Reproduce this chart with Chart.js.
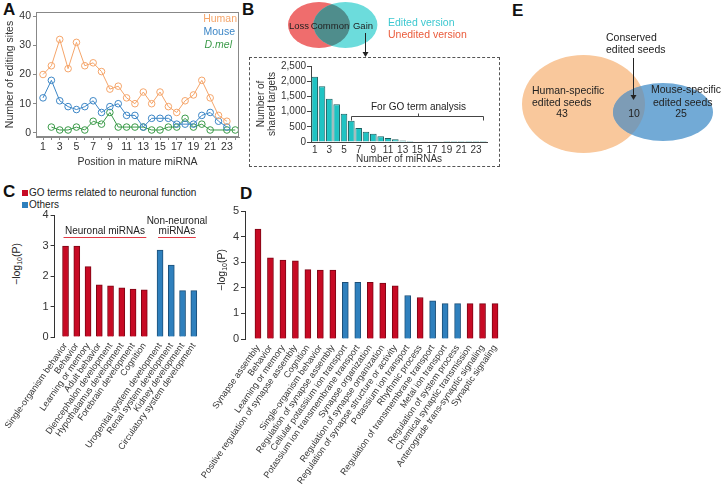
<!DOCTYPE html>
<html>
<head>
<meta charset="utf-8">
<title>miRNA editing figure</title>
<script src="https://cdn.jsdelivr.net/npm/chart.js@4.4.1/dist/chart.umd.min.js"></script>
<style>
  body { margin: 0; background: #fff; }
  #fig { position: relative; width: 721px; height: 484px; overflow: hidden;
         font-family: Arial, "Liberation Sans", Helvetica, sans-serif; color: #222; }
  #fig canvas { position: absolute; }
  .letter { position: absolute; font-size: 17px; font-weight: bold; line-height: 1; color: #111; }
  .t { position: absolute; font-size: 10.5px; line-height: 12px; white-space: nowrap; }
  .c { text-align: center; }
  .box { position: absolute; border: 1px dashed #555; box-sizing: border-box; }
  .sq { position: absolute; width: 6px; height: 6px; }
  .ytitle { position: absolute; width: 80px; height: 14px; line-height: 14px; text-align: center;
            font-size: 10.5px; transform: rotate(-90deg); white-space: nowrap; }
  .ytitle sub { font-size: 7px; vertical-align: -2px; }
</style>
</head>
<body>
<div id="fig">
  <div class="letter" style="left:3px;top:1px">A</div>
  <div class="letter" style="left:242px;top:1px">B</div>
  <div class="letter" style="left:512px;top:2px">E</div>
  <div class="letter" style="left:3px;top:183px">C</div>
  <div class="letter" style="left:240px;top:185px">D</div>

  <!-- A -->
  <canvas id="chartA" width="250" height="170" style="left:0;top:0"></canvas>
  <div class="t" style="right:484px;top:12px;color:#f5a56a">Human</div>
  <div class="t" style="right:486px;top:25px;color:#3c86c6">Mouse</div>
  <div class="t" style="right:489px;top:38px;color:#3a9a48;font-style:italic">D.mel</div>

  <!-- B -->
  <canvas id="vennB" width="200" height="57" style="left:280px;top:0"></canvas>
  <div class="t c" style="left:279px;top:20px;width:40px;font-size:9.5px">Loss</div>
  <div class="t c" style="left:305px;top:20px;width:50px;font-size:9.5px">Common</div>
  <div class="t c" style="left:343px;top:20px;width:40px;font-size:9.5px">Gain</div>
  <div class="t" style="left:388px;top:16px;color:#3cc8d0">Edited version</div>
  <div class="t" style="left:388px;top:28px;color:#ea5a3a">Unedited version</div>
  <div class="box" style="left:249px;top:57px;width:251px;height:110px"></div>
  <canvas id="chartB" width="246" height="107" style="left:252px;top:58px"></canvas>

  <!-- E -->
  <canvas id="vennE" width="206" height="110" style="left:515px;top:50px"></canvas>
  <div class="t" style="left:606px;top:31px">Conserved</div>
  <div class="t" style="left:606px;top:43px">edited seeds</div>
  <div class="t" style="left:532px;top:84px">Human-specific</div>
  <div class="t" style="left:532px;top:96px">edited seeds</div>
  <div class="t c" id="numHuman" style="left:542px;top:107px;width:40px"></div>
  <div class="t c" id="numConserved" style="left:614px;top:107px;width:40px"></div>
  <div class="t" style="left:651px;top:83px">Mouse-specific</div>
  <div class="t" style="left:653px;top:96px">edited seeds</div>
  <div class="t c" id="numMouse" style="left:661px;top:107px;width:40px"></div>

  <!-- C -->
  <div class="sq" style="left:22px;top:190px;background:#c70a24"></div>
  <div class="t" style="left:29px;top:187px;font-size:10px">GO terms related to neuronal function</div>
  <div class="sq" style="left:22px;top:202px;background:#2f80bd"></div>
  <div class="t" style="left:29px;top:199px;font-size:10px">Others</div>
  <div class="ytitle" style="left:-24px;top:257px">−log<sub>10</sub>(P)</div>
  <canvas id="chartC" width="230" height="284" style="left:0;top:200px"></canvas>

  <!-- D -->
  <div class="ytitle" style="left:181px;top:263px">−log<sub>10</sub>(P)</div>
  <canvas id="chartD" width="320" height="289" style="left:200px;top:195px"></canvas>
</div>

<script>
// ---- A: editing sites per position ----
const positions = [1, 2, 3, 4, 5, 6, 7, 8, 9, 10, 11, 12, 13, 14, 15, 16, 17, 18, 19, 20, 21, 22, 23, 24];
const humanSites = [20, 23, 32, 22, 31, 23, 24, 21, 15, 16, 12, 10, 14, 10, 14, 9, 7, 11, 13, 18, 12, 6, 4, null];
const mouseSites = [12, 18, 11, 9, 8, 9, 11, 7, 9, 10, 6, 6, 2, 5, 5, 5, 3, 3, 3, 6, 7, 4, 2, null];
const dmelSites = [null, 2, 1, 1, 2, 1, 4, 3, 7, 2, 2, 2, 2, 1, 1, 2, 2, 5, 2, 3, 1, null, 1, 1];
const editTicks = [0, 10, 20, 30, 40];

// ---- B: shared targets ----
const mirnaCounts = [1, 2, 3, 4, 5, 6, 7, 8, 9, 10, 11, 12, 13, 14, 15, 16, 17, 18, 19, 20, 21, 22, 23, 24];
const sharedTargets = [2150, 1830, 1420, 1240, 930, 700, 460, 340, 270, 190, 130, 90, 50, 30, 15, 10, 5, 5, 3, 2, 2, 1, 1, 1];
const sharedTicks = [0, 500, 1000, 1500, 2000, 2500];

// ---- C: GO terms by miRNA group ----
const cTermsNeuronal = ['Single-organism behavior', 'Behavior', 'Learning or memory', 'Adult behavior',
  'Diencephalon development', 'Hypothalamus development', 'Forebrain development', 'Cognition'];
const cValuesNeuronal = [2.98, 2.98, 2.31, 1.71, 1.68, 1.61, 1.57, 1.55];
const cTermsOther = ['Urogenital system development', 'Renal system development', 'Kidney development',
  'Circulatory system development'];
const cValuesOther = [2.85, 2.36, 1.52, 1.52];
const cTicks = [0, 1, 2, 3, 4];

// ---- D: GO terms of shared targets ----
const dTerms = ['Synapse assembly', 'Behavior', 'Learning or memory', 'Positive regulation of synapse assembly',
  'Cognition', 'Single-organism behavior', 'Regulation of synapse assembly', 'Cellular potassium ion transport',
  'Potassium ion transmembrane transport', 'Synapse organization', 'Regulation of synapse organization',
  'Regulation of synapse structure or activity', 'Potassium ion transport', 'Rhythmic process',
  'Regulation of transmembrane transport', 'Metal ion transport', 'Regulation of system process',
  'Chemical synaptic transmission', 'Anterograde trans-synaptic signaling', 'Synaptic signaling'];
const dValues = [4.29, 3.17, 3.08, 3.05, 2.71, 2.69, 2.69, 2.21, 2.21, 2.21, 2.18, 2.08, 1.70, 1.62, 1.49, 1.38, 1.38, 1.38, 1.38, 1.38];
const dNeuronal = [true, true, true, true, true, true, true, false, false, true, true, true, false, true, false, false, false, true, true, true];
const dTicks = [0, 1, 2, 3, 4, 5];

// ---- E: edited seeds ----
const humanSeeds = 43;
const conservedSeeds = 10;
const mouseSeeds = 25;

const HUMAN = '#f5a56a', MOUSE = '#3c86c6', DMEL = '#3a9a48';
const RED = '#c70a24', RED_EDGE = '#7d0514', BLUE = '#2f80bd', BLUE_EDGE = '#1c4f78';

Chart.defaults.font.family = 'Arial, "Liberation Sans", Helvetica, sans-serif';
Chart.defaults.font.size = 10.5;
Chart.defaults.color = '#333';
Chart.defaults.animation = false;
Chart.defaults.plugins.legend.display = false;
Chart.defaults.plugins.tooltip.enabled = false;

const fixWidth = w => s => { s.width = w; };
const fixHeight = h => s => { s.height = h; };
const setTicks = values => s => { s.ticks = values.map(v => ({ value: v })); };

// box round the plot area of A
const framePlugin = {
    id: 'frame',
    afterDraw(chart) {
        const { ctx, chartArea: a } = chart;
        ctx.save();
        ctx.strokeStyle = '#888';
        ctx.lineWidth = 1;
        ctx.strokeRect(a.left + 0.5, a.top + 0.5, a.right - a.left - 1, a.bottom - a.top - 1);
        ctx.restore();
    }
};

// ellipses + arrow for the venn diagrams
const vennPlugin = {
    id: 'venn',
    afterDraw(chart, args, o) {
        const { ctx, scales: { x, y } } = chart;
        const px = s => ({
            cx: x.getPixelForValue(s.cx), cy: y.getPixelForValue(s.cy),
            rx: Math.abs(x.getPixelForValue(s.cx + s.rx) - x.getPixelForValue(s.cx)),
            ry: Math.abs(y.getPixelForValue(s.cy + s.ry) - y.getPixelForValue(s.cy))
        });
        const e = o.sets.map(px);
        const path = p => { ctx.beginPath(); ctx.ellipse(p.cx, p.cy, p.rx, p.ry, 0, 0, Math.PI * 2); };
        ctx.save();
        e.forEach((p, i) => { path(p); ctx.fillStyle = o.sets[i].color; ctx.fill(); });
        path(e[0]); ctx.clip();
        path(e[1]); ctx.fillStyle = o.overlap; ctx.fill();
        ctx.restore();

        const ax = x.getPixelForValue(o.arrow.x);
        const y0 = y.getPixelForValue(o.arrow.from), y1 = y.getPixelForValue(o.arrow.to);
        ctx.save();
        ctx.strokeStyle = '#222'; ctx.fillStyle = '#222'; ctx.lineWidth = 1;
        ctx.beginPath(); ctx.moveTo(ax + 0.5, y0); ctx.lineTo(ax + 0.5, y1 - 4); ctx.stroke();
        ctx.beginPath(); ctx.moveTo(ax - 2.5, y1 - 5); ctx.lineTo(ax + 3.5, y1 - 5); ctx.lineTo(ax + 0.5, y1); ctx.closePath(); ctx.fill();
        ctx.restore();
    }
};

// bracket over bars in B
const bracketPlugin = {
    id: 'bracket',
    afterDatasetsDraw(chart, args, o) {
        const { ctx, scales: { x, y } } = chart;
        const x0 = Math.round(x.getPixelForValue(o.from)) + 0.5;
        const x1 = Math.round(x.getPixelForValue(o.to)) + 0.5;
        const yy = Math.round(y.getPixelForValue(o.at)) + 0.5;
        const xm = Math.round((x0 + x1) / 2) + 0.5;
        ctx.save();
        ctx.strokeStyle = '#444'; ctx.lineWidth = 1;
        ctx.beginPath();
        ctx.moveTo(x0, yy + 4); ctx.lineTo(x0, yy); ctx.lineTo(x1, yy); ctx.lineTo(x1, yy + 4);
        ctx.moveTo(xm, yy); ctx.lineTo(xm, yy - 3);
        ctx.stroke();
        ctx.fillStyle = '#222';
        ctx.font = '10px Arial, "Liberation Sans", sans-serif';
        ctx.textAlign = 'center'; ctx.textBaseline = 'middle';
        ctx.fillText(o.text, xm, yy - 9);
        ctx.restore();
    }
};

// red lines with group names in C
const groupPlugin = {
    id: 'groups',
    afterDatasetsDraw(chart, args, o) {
        const { ctx, scales: { x, y } } = chart;
        const yy = Math.round(y.getPixelForValue(o.at)) + 0.5;
        ctx.save();
        o.groups.forEach(g => {
            const x0 = x.getPixelForValue(g.from) - o.pad, x1 = x.getPixelForValue(g.to) + o.pad;
            ctx.strokeStyle = '#e23a44'; ctx.lineWidth = 1.2;
            ctx.beginPath(); ctx.moveTo(x0, yy); ctx.lineTo(x1, yy); ctx.stroke();
            ctx.fillStyle = '#222';
            ctx.font = '10px Arial, "Liberation Sans", sans-serif';
            ctx.textAlign = 'center'; ctx.textBaseline = 'bottom';
            g.text.forEach((line, k) => ctx.fillText(line, (x0 + x1) / 2, yy - 1 - (g.text.length - 1 - k) * 10));
        });
        ctx.restore();
    }
};

// ---------- A ----------
const lineSet = (label, values, color) => ({
    label,
    data: positions.map((p, i) => ({ x: p, y: values[i] })),
    borderColor: color,
    pointBorderColor: color,
    pointBackgroundColor: 'rgba(0,0,0,0)',
    pointRadius: 3.3,
    pointBorderWidth: 1,
    borderWidth: 1,
    spanGaps: true,
    tension: 0
});

new Chart(document.getElementById('chartA'), {
    type: 'line',
    data: {
        datasets: [
            lineSet('Human', humanSites, HUMAN),
            lineSet('Mouse', mouseSites, MOUSE),
            lineSet('D.mel', dmelSites, DMEL)
        ]
    },
    options: {
        responsive: false,
        layout: { padding: { left: 0, top: 12, right: 11, bottom: 0 } },
        scales: {
            x: {
                type: 'linear', min: 0.16, max: 24.45,
                afterBuildTicks: setTicks(positions),
                afterFit: fixHeight(33),
                grid: { drawOnChartArea: false, tickLength: 3, color: '#888' },
                border: { color: '#888' },
                ticks: { autoSkip: false, maxRotation: 0, padding: 1,
                         callback: v => (v % 2 === 1 && v <= 23) ? v : '' },
                title: { display: true, text: 'Position in mature miRNA', padding: { top: 0, bottom: 2 } }
            },
            y: {
                min: -1.4, max: 41.4,
                afterBuildTicks: setTicks(editTicks),
                afterFit: fixWidth(36),
                grid: { drawOnChartArea: false, tickLength: 3, color: '#888' },
                border: { color: '#888' },
                ticks: { padding: 2 },
                title: { display: true, text: 'Number of editing sites', padding: { top: 4, bottom: 0 } }
            }
        }
    },
    plugins: [framePlugin]
});

// ---------- B ----------
new Chart(document.getElementById('vennB'), {
    type: 'scatter',
    data: { datasets: [] },
    options: {
        responsive: false,
        layout: { padding: 0 },
        scales: {
            x: { display: false, min: 0, max: 10 },
            y: { display: false, min: 0, max: 2.85, reverse: true }
        },
        plugins: {
            venn: {
                sets: [
                    { cx: 1.95, cy: 1.25, rx: 1.55, ry: 1.15, color: '#ef6d6d' },
                    { cx: 3.27, cy: 1.25, rx: 1.6, ry: 1.15, color: '#6cdcdc' }
                ],
                overlap: '#4f8d8c',
                arrow: { x: 4.25, from: 1.65, to: 2.85 }
            }
        }
    },
    plugins: [vennPlugin]
});

new Chart(document.getElementById('chartB'), {
    type: 'bar',
    data: {
        labels: mirnaCounts.map(String),
        datasets: [{
            data: sharedTargets,
            backgroundColor: '#1fc3c3',
            borderColor: '#175f60',
            borderWidth: 1,
            barPercentage: 0.9,
            categoryPercentage: 1
        }]
    },
    options: {
        responsive: false,
        layout: { padding: { left: 0, top: 8, right: 11, bottom: 0 } },
        scales: {
            x: {
                afterFit: fixHeight(23),
                grid: { display: false, drawTicks: false },
                border: { color: '#444' },
                ticks: { autoSkip: false, maxRotation: 0, padding: 2, font: { size: 10 },
                         callback: (v, i) => i % 2 === 0 ? mirnaCounts[i] : '' },
                title: { display: true, text: 'Number of miRNAs', font: { size: 10 }, padding: { top: 0, bottom: 0 } }
            },
            y: {
                min: 0, max: 2500,
                afterBuildTicks: setTicks(sharedTicks),
                afterFit: fixWidth(59),
                grid: { drawOnChartArea: false, tickLength: 4, color: '#444' },
                border: { color: '#444' },
                ticks: { padding: 1, font: { size: 10 }, callback: v => v.toLocaleString('en-US') },
                title: { display: true, text: ['Number of', 'shared targets'], font: { size: 10, lineHeight: 1.1 },
                         padding: { top: 4, bottom: 0 } }
            }
        },
        plugins: {
            bracket: { from: 5, to: 23, at: 850, text: 'For GO term analysis' }
        }
    },
    plugins: [bracketPlugin]
});

// ---------- E ----------
document.getElementById('numHuman').textContent = humanSeeds;
document.getElementById('numConserved').textContent = conservedSeeds;
document.getElementById('numMouse').textContent = mouseSeeds;

new Chart(document.getElementById('vennE'), {
    type: 'scatter',
    data: { datasets: [] },
    options: {
        responsive: false,
        layout: { padding: 0 },
        scales: {
            x: { display: false, min: 0, max: 20.6 },
            y: { display: false, min: 0, max: 11, reverse: true }
        },
        plugins: {
            venn: {
                sets: [
                    { cx: 6.85, cy: 5.4, rx: 6.15, ry: 4.9, color: '#f9c89c' },
                    { cx: 14.8, cy: 6.2, rx: 5.0, ry: 2.9, color: '#72aad6' }
                ],
                overlap: '#7d9cb6',
                arrow: { x: 11.8, from: 0.8, to: 5.0 }
            }
        }
    },
    plugins: [vennPlugin]
});

// ---------- C ----------
const cTerms = cTermsNeuronal.concat(cTermsOther);
const cValues = cValuesNeuronal.concat(cValuesOther);
const groupGap = 0.4;
const cPos = cTerms.map((t, i) => i < cTermsNeuronal.length ? i : i + groupGap);
const cIsNeuronal = cTerms.map((t, i) => i < cTermsNeuronal.length);

const goAxisX = (pos, terms, min, max, h) => ({
    type: 'linear', min, max, offset: false,
    afterBuildTicks: setTicks(pos),
    afterFit: fixHeight(h),
    grid: { display: false, drawTicks: false, offset: false },
    border: { display: false },
    ticks: { autoSkip: false, minRotation: 55, maxRotation: 55, padding: 4, color: '#333',
             font: { size: 9 }, callback: (v, i) => terms[i] }
});
const goAxisY = (ticks, max, w) => ({
    min: 0, max,
    afterBuildTicks: setTicks(ticks),
    afterFit: fixWidth(w),
    grid: { drawOnChartArea: false, tickLength: 4, color: '#333' },
    border: { color: '#333' },
    ticks: { padding: 2, font: { size: 11 } }
});

new Chart(document.getElementById('chartC'), {
    type: 'bar',
    data: {
        datasets: [{
            data: cPos.map((p, i) => ({ x: p, y: cValues[i] })),
            backgroundColor: cIsNeuronal.map(n => n ? RED : BLUE),
            borderColor: cIsNeuronal.map(n => n ? RED_EDGE : BLUE_EDGE),
            borderWidth: 1,
            barThickness: 6
        }]
    },
    options: {
        responsive: false,
        layout: { padding: { left: 0, top: 15, right: 30, bottom: 0 } },
        scales: {
            x: goAxisX(cPos, cTerms, -0.97, 11.95, 147),
            y: goAxisY(cTicks, 4, 40)
        },
        plugins: {
            groups: {
                at: 3.28, pad: 2,
                groups: [
                    { text: ['Neuronal miRNAs'], from: cPos[0], to: cPos[cTermsNeuronal.length - 1] },
                    { text: ['Non-neuronal', 'miRNAs'], from: cPos[cTermsNeuronal.length], to: cPos[cPos.length - 1] }
                ]
            }
        }
    },
    plugins: [groupPlugin]
});

// ---------- D ----------
const dPos = dTerms.map((t, i) => i);

new Chart(document.getElementById('chartD'), {
    type: 'bar',
    data: {
        datasets: [{
            data: dPos.map((p, i) => ({ x: p, y: dValues[i] })),
            backgroundColor: dNeuronal.map(n => n ? RED : BLUE),
            borderColor: dNeuronal.map(n => n ? RED_EDGE : BLUE_EDGE),
            borderWidth: 1,
            barThickness: 6
        }]
    },
    options: {
        responsive: false,
        layout: { padding: { left: 0, top: 16, right: 15, bottom: 0 } },
        scales: {
            x: goAxisX(dPos, dTerms, -1.04, 19.8, 145),
            y: goAxisY(dTicks, 5, 45)
        }
    }
});
</script>
</body>
</html>
